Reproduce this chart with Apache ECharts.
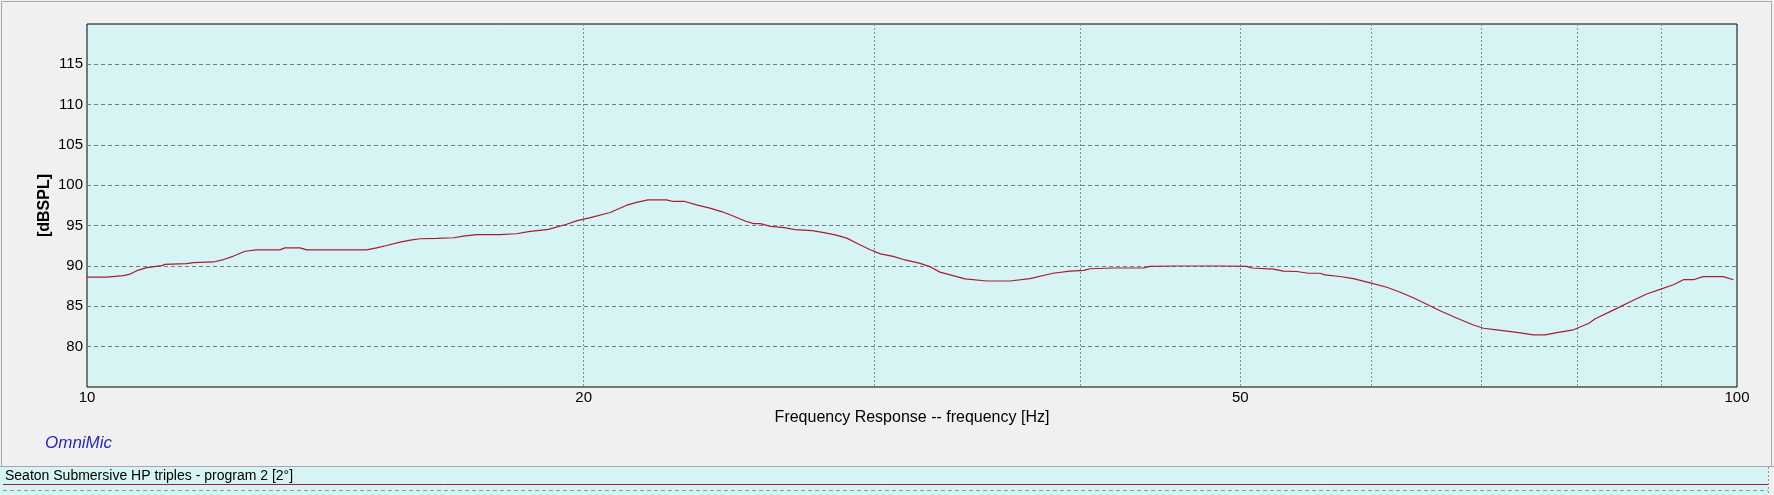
<!DOCTYPE html>
<html>
<head>
<meta charset="utf-8">
<script src="https://cdn.jsdelivr.net/npm/echarts@6/dist/echarts.min.js"></script>
<style>
  html, body { margin: 0; padding: 0; background: #f0f0f0; }
  #chart { width: 1774px; height: 495px; }
</style>
</head>
<body>
<div id="chart"></div>
<script>
// frequency points [Hz]
var freq = [10.0, 10.28, 10.52, 10.62, 10.72, 10.87, 11.1, 11.15, 11.49, 11.6,
  11.93, 12.1, 12.26, 12.47, 12.67, 13.09, 13.18, 13.46, 13.59, 14.1,
  14.77, 14.98, 15.19, 15.48, 15.7, 15.92, 16.29, 16.68, 16.91, 17.22,
  17.79, 18.2, 18.56, 19.04, 19.53, 19.82, 20.19, 20.75, 21.24, 21.53,
  21.88, 22.45, 22.66, 23.03, 23.41, 23.85, 24.24, 24.64, 25.05, 25.35,
  25.59, 25.96, 26.46, 26.85, 27.5, 27.97, 28.45, 28.87, 29.3, 29.81,
  30.26, 30.8, 31.26, 31.9, 32.39, 32.88, 34.05, 35.1, 36.25, 37.28,
  38.5, 39.42, 40.2, 40.54, 41.88, 43.68, 44.09, 45.55, 48.6, 50.45,
  50.8, 52.36, 53.1, 54.1, 54.98, 55.88, 56.27, 57.46, 58.55, 60.03,
  61.35, 62.5, 63.65, 64.86, 66.07, 67.78, 69.22, 70.2, 71.52, 73.55,
  75.27, 76.5, 77.77, 79.6, 81.29, 82.05, 84.14, 86.54, 88.17, 90.0,
  91.5, 92.79, 94.1, 95.4, 98.1, 99.5];

// level [dBSPL] at each frequency
var spl = [88.63, 88.63, 88.8, 89.0, 89.42, 89.8, 90.04, 90.2, 90.3, 90.42,
  90.5, 90.8, 91.2, 91.83, 92.0, 92.0, 92.25, 92.25, 92.0, 92.0,
  92.0, 92.25, 92.54, 92.96, 93.2, 93.38, 93.42, 93.5, 93.7, 93.9,
  93.9, 94.0, 94.3, 94.54, 95.17, 95.63, 96.0, 96.63, 97.54, 97.88,
  98.2, 98.2, 98.0, 98.0, 97.58, 97.17, 96.75, 96.2, 95.58, 95.25,
  95.25, 94.92, 94.75, 94.5, 94.38, 94.13, 93.83, 93.46, 92.8, 92.04,
  91.5, 91.2, 90.8, 90.38, 89.96, 89.24, 88.4, 88.14, 88.14, 88.43,
  89.1, 89.36, 89.45, 89.66, 89.75, 89.75, 89.96, 90.0, 90.0, 89.96,
  89.75, 89.62, 89.36, 89.32, 89.1, 89.1, 88.9, 88.7, 88.43, 87.88,
  87.37, 86.74, 86.06, 85.25, 84.45, 83.46, 82.68, 82.28, 82.09, 81.77,
  81.46, 81.46, 81.73, 82.09, 82.87, 83.46, 84.53, 85.76, 86.53, 87.16,
  87.67, 88.3, 88.3, 88.69, 88.69, 88.3];

var xGridLines = [20, 30, 40, 50, 60, 70, 80, 90];
var xLabels = [10, 20, 50, 100];

var seriesName = 'Seaton Submersive HP triples - program 2 [2°]';

var points = freq.map(function(f, i) {
  return [f, spl[i]];
});

var font = '"Liberation Sans", Arial, sans-serif';
var chart = echarts.init(document.getElementById('chart'));

chart.setOption({
  backgroundColor: '#f0f0f0',
  animation: false,
  grid: {
    left: 87,
    top: 24,
    right: 37,
    bottom: 108,
    show: true,
    backgroundColor: '#d6f4f4',
    borderColor: '#000',
    borderWidth: 1
  },
  xAxis: {
    type: 'log',
    logBase: 10,
    min: 10,
    max: 100,
    name: 'Frequency Response -- frequency [Hz]',
    nameLocation: 'middle',
    nameGap: 22,
    nameTextStyle: { color: '#000', fontFamily: font, fontSize: 16 },
    axisLine: { show: false },
    axisTick: { show: false, customValues: xGridLines },
    axisLabel: {
      customValues: xLabels,
      color: '#000',
      fontFamily: font,
      fontSize: 15,
      margin: 3,
      formatter: function(v) { return String(Math.round(v)); }
    },
    splitLine: {
      show: true,
      lineStyle: { color: '#7f8f8f', type: [2, 2], width: 1 }
    }
  },
  yAxis: {
    type: 'value',
    min: 75,
    max: 120,
    interval: 5,
    name: '[dBSPL]',
    nameLocation: 'middle',
    nameGap: 34,
    nameMoveOverlap: false,
    nameTextStyle: { color: '#000', fontFamily: font, fontSize: 16, fontWeight: 'bold' },
    axisLine: { show: false },
    axisTick: { show: false },
    axisLabel: {
      color: '#000',
      fontFamily: font,
      fontSize: 15,
      margin: 4,
      formatter: function(v) {
        return (v === 75 || v === 120) ? '' : String(v);
      }
    },
    splitLine: {
      show: true,
      showMinLine: false,
      showMaxLine: false,
      lineStyle: { color: '#6f7f7f', type: [4, 3], width: 1 }
    }
  },
  series: [
    {
      name: seriesName,
      type: 'line',
      data: points,
      showSymbol: false,
      smooth: false,
      lineStyle: { color: '#a81c30', width: 1.2 },
      z: 5
    }
  ],
  graphic: [
    {
      type: 'rect',
      silent: true,
      z: -1,
      shape: { x: 1.5, y: 1.5, width: 1770, height: 465 },
      style: { fill: 'none', stroke: '#a8a8a8', lineWidth: 1 }
    },
    {
      type: 'text',
      left: 45,
      top: 435,
      style: {
        text: 'OmniMic',
        fill: '#2a2ab4',
        font: 'italic 17px ' + font
      }
    },
    {
      type: 'rect',
      silent: true,
      shape: { x: 0, y: 467, width: 1768, height: 28 },
      style: { fill: '#d6f4f4', stroke: 'none' }
    },
    {
      type: 'line',
      silent: true,
      shape: { x1: 0, y1: 466.5, x2: 1774, y2: 466.5 },
      style: { stroke: '#a8a8a8', lineWidth: 1 }
    },
    {
      type: 'text',
      left: 5,
      top: 469,
      style: {
        text: seriesName,
        fill: '#000',
        font: '14px ' + font
      }
    },
    {
      type: 'line',
      silent: true,
      shape: { x1: 3, y1: 484.5, x2: 1768, y2: 484.5 },
      style: { stroke: '#a81c30', lineWidth: 1 }
    },
    {
      type: 'line',
      silent: true,
      shape: { x1: 3, y1: 490.5, x2: 1768, y2: 490.5 },
      style: { stroke: '#7f9f9f', lineWidth: 1, lineDash: [4, 3] }
    },
    {
      type: 'line',
      silent: true,
      shape: { x1: 1768.5, y1: 467, x2: 1768.5, y2: 495 },
      style: { stroke: '#7f9f9f', lineWidth: 1, lineDash: [2, 2] }
    }
  ]
});
</script>
</body>
</html>
